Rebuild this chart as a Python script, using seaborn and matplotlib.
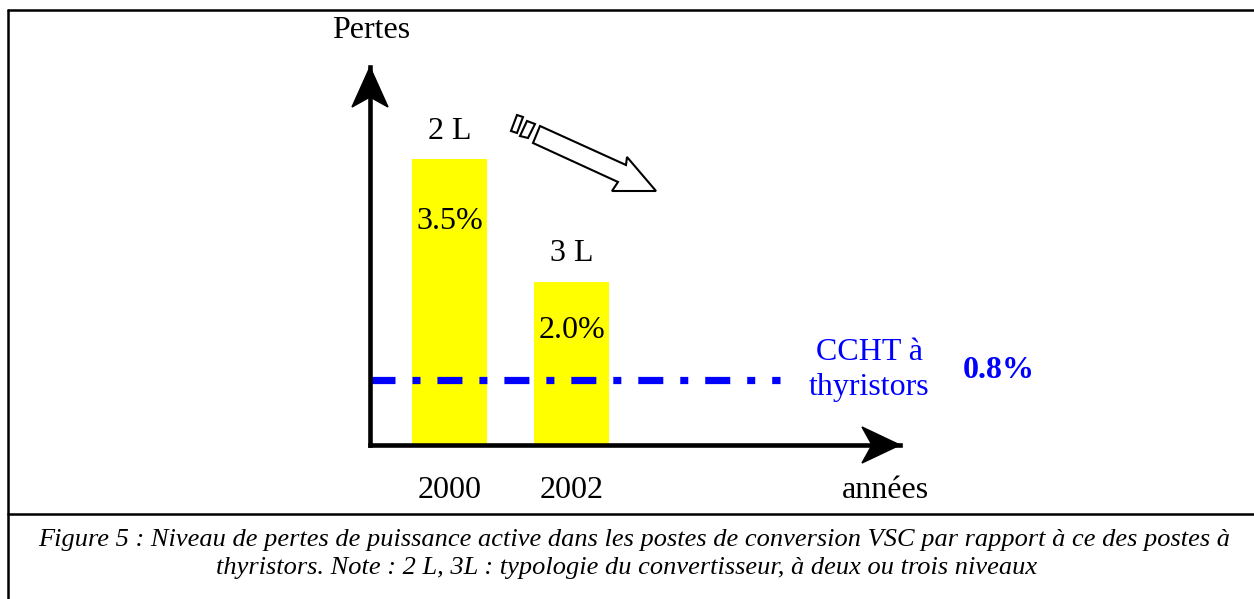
import matplotlib
matplotlib.use('Agg')
import matplotlib.pyplot as plt
import matplotlib.transforms as mtransforms
from matplotlib.patches import Polygon
from matplotlib.lines import Line2D
import seaborn as sns

# données du graphique
years = ['2000', '2002']
losses = [3.5, 2.0]
topology = ['2 L', '3 L']
thyristor_loss = 0.8

sns.set_style('white')
plt.rcParams['font.family'] = ['Liberation Serif', 'DejaVu Serif']
plt.rcParams['text.color'] = 'black'
plt.rcParams['xtick.color'] = 'black'

W, H = 1254, 599
fig = plt.figure(figsize=(W / 100, H / 100), dpi=100)
# repère en pixels (origine en haut à gauche) pour les décorations
T = mtransforms.Affine2D().scale(1 / W, -1 / H).translate(0, 1) + fig.transFigure


def ftext(px, py, s, **kw):
    fig.text(px / W, 1 - py / H, s, ha='center', va='center', **kw)


# axes : origine (370, 445), flèches jusqu'à (900, 445) et (370, 67)
ax = fig.add_axes([370 / W, 1 - 445 / H, (900 - 370) / W, (445 - 67) / H])
ax.patch.set_alpha(0)

sns.barplot(x=years, y=losses, color='#FFFF00', saturation=1, width=0.615,
            linewidth=0, ax=ax, zorder=1)

ax.set_xlim(-79.5 / 122, (900 - 449.5) / 122)
ax.set_ylim(0, 378 / 81.7)

for side in ['top', 'right']:
    ax.spines[side].set_visible(False)
for side in ['left', 'bottom']:
    ax.spines[side].set_linewidth(3.3)
    ax.spines[side].set_color('black')
    ax.spines[side].set_capstyle('projecting')
    ax.spines[side].set_zorder(5)

ax.set_yticks([])
ax.tick_params(axis='x', length=0, labelsize=23, pad=22, labelcolor='black')
ax.set_xlabel('')
ax.set_ylabel('')

# étiquettes des barres
val_offsets = [-45, -35]
for i, (v, t) in enumerate(zip(losses, topology)):
    ax.annotate(t, (i, v), xytext=(0, 20), textcoords='offset points',
                ha='center', va='center', fontsize=23)
    ax.annotate(f'{v:.1f}%', (i, v), xytext=(0, val_offsets[i]),
                textcoords='offset points', ha='center', va='center', fontsize=23)

# niveau CCHT à thyristors
x0 = ax.get_xlim()[0]
ax.plot([x0, 2.71], [thyristor_loss, thyristor_loss], color='#0000FF', lw=5.2,
        linestyle=(0, (3.46, 2.35, 1.11, 2.35)), solid_capstyle='butt', zorder=3)

# pointes de flèches des axes
fig.add_artist(Polygon([(370, 67), (352, 107), (370, 97), (388, 107)],
                       closed=True, color='black', transform=T, zorder=6))
fig.add_artist(Polygon([(900, 445), (862, 427), (872, 445), (862, 463)],
                       closed=True, color='black', transform=T, zorder=6))

# flèche creuse (tendance à la baisse)
fig.add_artist(Polygon([(540, 126), (626, 165), (627, 157), (656, 191),
                        (612, 191), (618, 182), (533, 143)],
                       closed=True, facecolor='white', edgecolor='black', lw=1.5,
                       transform=T))
fig.add_artist(Polygon([(517, 115), (523, 117), (517, 133), (511, 131)],
                       closed=True, facecolor='white', edgecolor='black', lw=1.5,
                       transform=T))
fig.add_artist(Polygon([(527, 121), (535, 124), (528, 138), (520, 136)],
                       closed=True, facecolor='white', edgecolor='black', lw=1.5,
                       transform=T))

# textes
ftext(371, 31, 'Pertes', fontsize=23)
ftext(885, 490, 'années', fontsize=23)
ftext(869, 352, 'CCHT à', fontsize=23, color='#0000FF')
ftext(869, 388, 'thyristors', fontsize=23, color='#0000FF')
ftext(999, 370, f'{thyristor_loss}%', fontsize=23, color='#0000FF', fontweight='bold')

# cadre et légende
for pts in [[(8, 10), (1254, 10)], [(8, 10), (8, 599)], [(8, 514), (1254, 514)]]:
    (xa, ya), (xb, yb) = pts
    fig.add_artist(Line2D([xa, xb], [ya, yb], color='black', lw=1.8, transform=T))

ftext(634, 540, "Figure 5 : Niveau de pertes de puissance active dans les postes de "
      "conversion VSC par rapport à ce des postes à", fontsize=19, style='italic')
ftext(627, 568, "thyristors. Note : 2 L, 3L : typologie du convertisseur, à deux ou "
      "trois niveaux", fontsize=19, style='italic')

fig.savefig('out.png', dpi=100)
